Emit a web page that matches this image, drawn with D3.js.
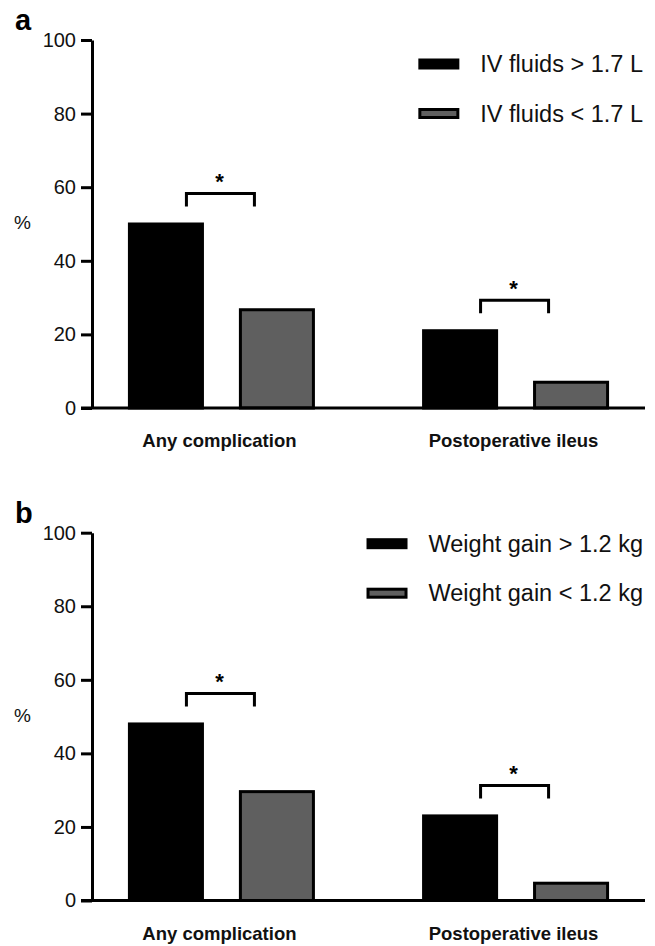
<!DOCTYPE html>
<html>
<head>
<meta charset="utf-8">
<script src="https://cdn.jsdelivr.net/npm/d3@7"></script>
<style>
  body { margin: 0; background: #fff; }
  svg { display: block; font-family: "Liberation Sans", Arial, sans-serif; }
</style>
</head>
<body>
<svg width="655" height="946"></svg>
<script>
// chart data
const categories = ["Any complication", "Postoperative ileus"];
const yTicks = [0, 20, 40, 60, 80, 100];
const panelLabels = ["a", "b"];

const seriesA = ["IV fluids > 1.7 L", "IV fluids < 1.7 L"];
const valuesAHigh = [50, 21];
const valuesALow = [26.7, 7];

const seriesB = ["Weight gain > 1.2 kg", "Weight gain < 1.2 kg"];
const valuesBHigh = [48, 23];
const valuesBLow = [29.6, 4.7];

const sigMarks = ["*", "*"];

const fills = ["#000000", "#5f5f5f"];

const svg = d3.select("svg");

// panel layout (pixel positions of the 0 and 100 ticks)
const panels = [
    { label: panelLabels[0], series: seriesA, high: valuesAHigh, low: valuesALow, y0: 408, y100: 40, legendTop: 24 },
    { label: panelLabels[1], series: seriesB, high: valuesBHigh, low: valuesBLow, y0: 900.5, y100: 532.7, legendTop: 11 }
];

const axisX = 92;
const rightEdge = 645;

panels.forEach(p => {
    const g = svg.append("g");

    const y = d3.scaleLinear()
        .domain([0, 100])
        .range([p.y0, p.y100]);

    const x = d3.scalePoint()
        .domain(categories)
        .range([axisX, rightEdge])
        .padding(0.44);

    const inner = d3.scaleBand()
        .domain(p.series)
        .range([-92, 92])
        .paddingInner(0.342);

    // y axis
    const yAxis = d3.axisLeft(y)
        .tickValues(yTicks)
        .tickSize(11)
        .tickSizeOuter(0)
        .tickPadding(5);

    const ya = g.append("g")
        .attr("transform", "translate(" + axisX + ",0)")
        .call(yAxis);
    ya.attr("font-size", 20);
    ya.select(".domain").attr("stroke-width", 3).attr("stroke", "#000");
    ya.selectAll(".tick line").attr("stroke-width", 3).attr("stroke", "#000");
    ya.selectAll(".tick text")
        .attr("font-size", 20)
        .attr("fill", "#111")
        .attr("font-family", "'Liberation Sans', Arial, sans-serif");

    // bars
    const rows = categories.map((c, i) => ({ cat: c, vals: [p.high[i], p.low[i]] }));

    rows.forEach((r, i) => {
        const cx = x(r.cat);
        g.selectAll(null)
            .data(r.vals)
            .enter().append("rect")
            .attr("x", (d, j) => cx + inner(p.series[j]))
            .attr("y", d => y(d))
            .attr("width", inner.bandwidth())
            .attr("height", d => y(0) - y(d))
            .attr("fill", (d, j) => fills[j])
            .attr("stroke", "#000")
            .attr("stroke-width", 3);

        // significance bracket
        const top = y(d3.max(r.vals) + 8.3);
        const legs = 13;
        g.append("path")
            .attr("d", "M" + (cx - 35) + "," + (top + legs) + "V" + top + "H" + (cx + 33) + "V" + (top + legs))
            .attr("fill", "none")
            .attr("stroke", "#000")
            .attr("stroke-width", 3);
        g.append("text")
            .attr("x", cx - 2)
            .attr("y", top - 4)
            .attr("text-anchor", "middle")
            .attr("font-size", 22)
            .attr("font-weight", "bold")
            .text(sigMarks[i]);

        // category label
        g.append("text")
            .attr("x", cx - 2)
            .attr("y", p.y0 + 39)
            .attr("text-anchor", "middle")
            .attr("font-size", 18.5)
            .attr("font-weight", "bold")
            .attr("fill", "#111")
            .text(r.cat);
    });

    // x axis line
    g.append("line")
        .attr("x1", axisX - 11)
        .attr("x2", rightEdge)
        .attr("y1", y(0))
        .attr("y2", y(0))
        .attr("stroke", "#000")
        .attr("stroke-width", 3);

    // % label and panel letter
    g.append("text")
        .attr("x", 14)
        .attr("y", y(48.6))
        .attr("font-size", 19)
        .attr("fill", "#111")
        .text("%");

    g.append("text")
        .attr("x", 15)
        .attr("y", p.y100 - 10)
        .attr("font-size", 29)
        .attr("font-weight", "bold")
        .text(p.label);

    // legend
    const legend = g.append("g");
    const labels = legend.selectAll("text")
        .data(p.series)
        .enter().append("text")
        .attr("x", 643)
        .attr("y", (d, j) => y(100) + p.legendTop + j * 49.5)
        .attr("dy", "0.35em")
        .attr("text-anchor", "end")
        .attr("font-size", 23.5)
        .attr("fill", "#111")
        .text(d => d);

    let maxW = 0;
    labels.each(function () { maxW = Math.max(maxW, this.getComputedTextLength()); });
    const swX = 643 - maxW - 21 - 41;

    legend.selectAll("rect")
        .data(p.series)
        .enter().append("rect")
        .attr("x", (d, j) => j === 0 ? swX : swX + 1.5)
        .attr("y", (d, j) => y(100) + p.legendTop + j * 49.5 - (j === 0 ? 5.5 : 4))
        .attr("width", (d, j) => j === 0 ? 41 : 38)
        .attr("height", (d, j) => j === 0 ? 11 : 8)
        .attr("fill", (d, j) => fills[j])
        .attr("stroke", (d, j) => j === 0 ? "none" : "#000")
        .attr("stroke-width", 3);
});
</script>
</body>
</html>
